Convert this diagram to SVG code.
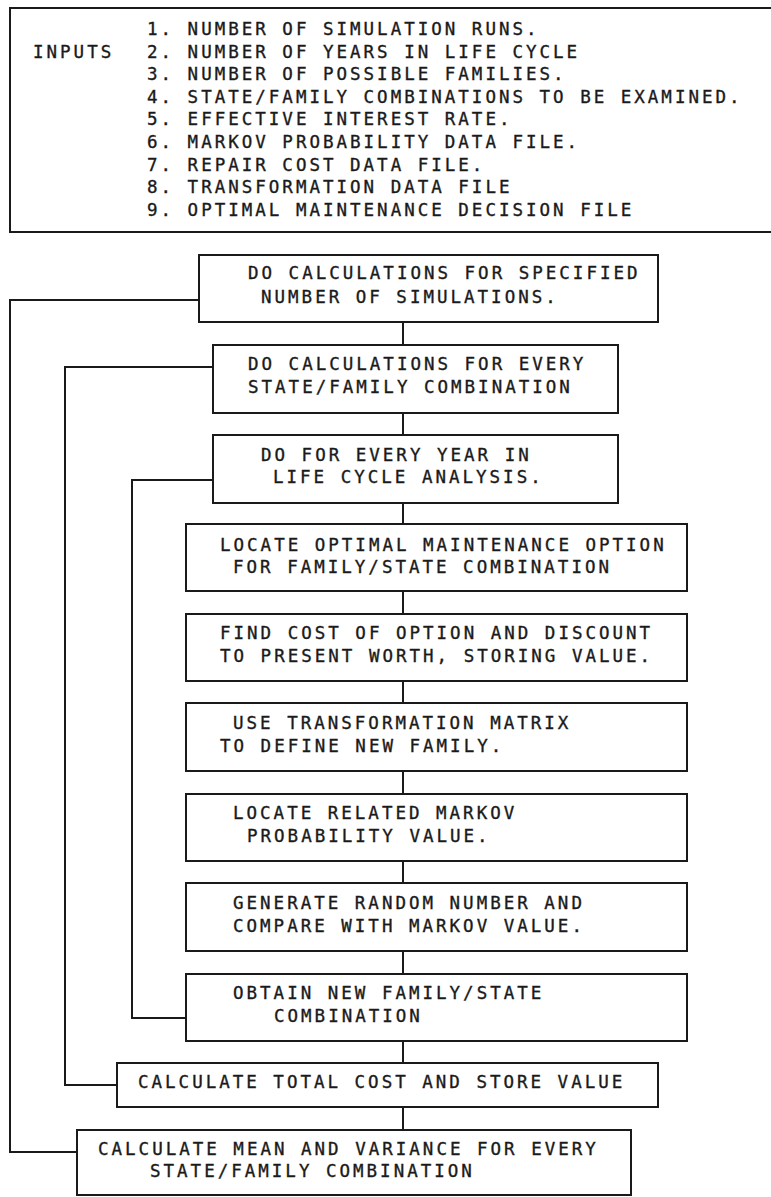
<svg xmlns="http://www.w3.org/2000/svg" width="771" height="1197" viewBox="0 0 771 1197">
<style>
  .box { fill: #ffffff; stroke: #1a1a1a; stroke-width: 2; }
  .ln { fill: none; stroke: #1a1a1a; stroke-width: 2; }
  text { font-family: "DejaVu Sans Mono", "Liberation Mono", monospace; font-size: 17.5px; letter-spacing: 3px; fill: #1a1a1a; stroke: #1a1a1a; stroke-width: 0.35px; }
</style>
<rect width="771" height="1197" fill="#ffffff"/>
<g id="inputs">
  <path class="ln" d="M771,8 H10 V232 H771"/>
  <text x="33" y="57.6">INPUTS</text>
  <text x="147" y="35">1. NUMBER OF SIMULATION RUNS.</text>
  <text x="147" y="57.6">2. NUMBER OF YEARS IN LIFE CYCLE</text>
  <text x="147" y="80.2">3. NUMBER OF POSSIBLE FAMILIES.</text>
  <text x="147" y="102.8">4. STATE/FAMILY COMBINATIONS TO BE EXAMINED.</text>
  <text x="147" y="125.4">5. EFFECTIVE INTEREST RATE.</text>
  <text x="147" y="148">6. MARKOV PROBABILITY DATA FILE.</text>
  <text x="147" y="170.6">7. REPAIR COST DATA FILE.</text>
  <text x="147" y="193.2">8. TRANSFORMATION DATA FILE</text>
  <text x="147" y="215.8">9. OPTIMAL MAINTENANCE DECISION FILE</text>
</g>
<g id="connectors">
  <path class="ln" d="M403,322 V345 M403,413 V435 M403,503 V524 M403,591 V614 M403,681 V703 M403,771 V794 M403,861 V883 M403,951 V974 M403,1041 V1063 M403,1107 V1130"/>
  <path class="ln" d="M199,300 H10 V1152 H77"/>
  <path class="ln" d="M213,367 H65 V1085 H117"/>
  <path class="ln" d="M213,480 H132 V1018 H186"/>
</g>
<g id="n1">
  <rect class="box" x="199" y="255" width="459" height="67"/>
  <text x="248" y="279">DO CALCULATIONS FOR SPECIFIED</text>
  <text x="261" y="303">NUMBER OF SIMULATIONS.</text>
</g>
<g id="n2">
  <rect class="box" x="213" y="345" width="405" height="68"/>
  <text x="248" y="370">DO CALCULATIONS FOR EVERY</text>
  <text x="248" y="393">STATE/FAMILY COMBINATION</text>
</g>
<g id="n3">
  <rect class="box" x="213" y="435" width="405" height="68"/>
  <text x="261" y="461">DO FOR EVERY YEAR IN</text>
  <text x="273" y="483">LIFE CYCLE ANALYSIS.</text>
</g>
<g id="n4">
  <rect class="box" x="186" y="524" width="501" height="67"/>
  <text x="220" y="551">LOCATE OPTIMAL MAINTENANCE OPTION</text>
  <text x="233" y="573">FOR FAMILY/STATE COMBINATION</text>
</g>
<g id="n5">
  <rect class="box" x="186" y="614" width="501" height="67"/>
  <text x="220" y="639">FIND COST OF OPTION AND DISCOUNT</text>
  <text x="220" y="662">TO PRESENT WORTH, STORING VALUE.</text>
</g>
<g id="n6">
  <rect class="box" x="186" y="703" width="501" height="68"/>
  <text x="233" y="729">USE TRANSFORMATION MATRIX</text>
  <text x="220" y="752">TO DEFINE NEW FAMILY.</text>
</g>
<g id="n7">
  <rect class="box" x="186" y="794" width="501" height="67"/>
  <text x="233" y="819">LOCATE RELATED MARKOV</text>
  <text x="247" y="842">PROBABILITY VALUE.</text>
</g>
<g id="n8">
  <rect class="box" x="186" y="883" width="501" height="68"/>
  <text x="233" y="909">GENERATE RANDOM NUMBER AND</text>
  <text x="233" y="932">COMPARE WITH MARKOV VALUE.</text>
</g>
<g id="n9">
  <rect class="box" x="186" y="974" width="501" height="67"/>
  <text x="233" y="999">OBTAIN NEW FAMILY/STATE</text>
  <text x="274" y="1022">COMBINATION</text>
</g>
<g id="n10">
  <rect class="box" x="117" y="1063" width="541" height="44"/>
  <text x="138" y="1088">CALCULATE TOTAL COST AND STORE VALUE</text>
</g>
<g id="n11">
  <rect class="box" x="77" y="1130" width="554" height="65"/>
  <text x="98" y="1155">CALCULATE MEAN AND VARIANCE FOR EVERY</text>
  <text x="150" y="1177">STATE/FAMILY COMBINATION</text>
</g>
</svg>
